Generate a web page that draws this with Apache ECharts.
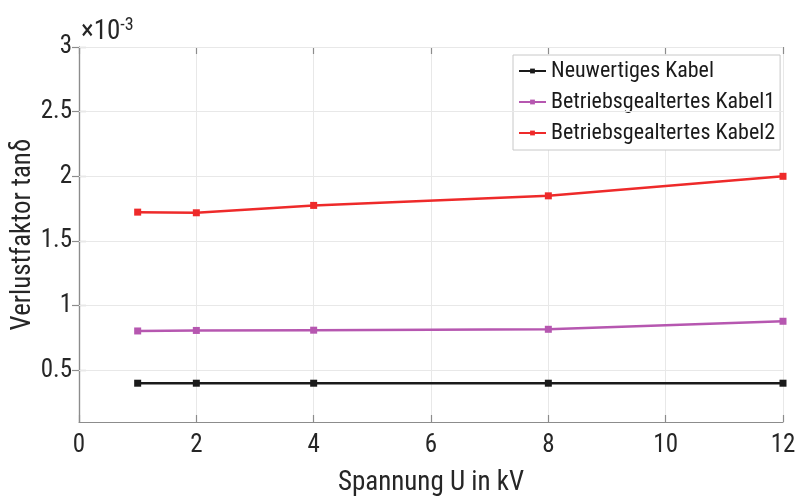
<!DOCTYPE html>
<html><head><meta charset="utf-8">
<script src="https://cdn.jsdelivr.net/npm/echarts@6/dist/echarts.min.js"></script>
<style>html,body{margin:0;padding:0;background:#fff}#c{width:798px;height:498px}</style>
</head><body><div id="c"></div>
<script>
// values in units of 1e-3
const xValues = [1, 2, 4, 8, 12];
const neu = [0.40, 0.40, 0.40, 0.40, 0.40];
const kabel1 = [0.804, 0.808, 0.81, 0.817, 0.879];
const kabel2 = [1.723, 1.718, 1.775, 1.849, 2.0];
const yTicks = [0.5, 1, 1.5, 2, 2.5, 3];
const yTickLabels = ['0.5', '1', '1.5', '2', '2.5', '3'];
const seriesNames = ['Neuwertiges Kabel', 'Betriebsgealtertes Kabel1', 'Betriebsgealtertes Kabel2'];
const colors = ['#1a1a1a', '#b657b0', '#ee2a2a'];

const FONT = "'Roboto Condensed','Liberation Sans Narrow','DejaVu Sans Condensed',Roboto,sans-serif";
const chart = echarts.init(document.getElementById('c'));
const pair = a => a.map((v, i) => [xValues[i], v]);
const axisLine = {show: true, lineStyle: {color: '#8c8c8c', width: 1.2}};
const tick = {show: true, inside: true, length: 7, lineStyle: {color: '#8c8c8c', width: 1.2}};
const grid = {left: 79, right: 15, top: 47, bottom: 76, containLabel: false, outerBoundsMode: 'none'};
const mkSeries = (name, data, color) => ({
  name, type: 'line', data: pair(data), xAxisIndex: 0, yAxisIndex: 0,
  symbol: 'rect', symbolSize: 7, lineStyle: {color, width: 2.5},
  itemStyle: {color}, animation: false, z: 5
});
chart.setOption({
  animation: false,
  textStyle: {fontFamily: FONT},
  grid,
  xAxis: [{
    type: 'value', min: 0, max: 12, interval: 2,
    axisLine, axisTick: tick,
    axisLabel: {color: '#262626', fontSize: 25, margin: 11, fontFamily: FONT},
    splitLine: {show: true, lineStyle: {color: '#e8e8e8', width: 1}},
    name: 'Spannung U in kV', nameLocation: 'middle', nameGap: 48, nameMoveOverlap: false,
    nameTextStyle: {color: '#262626', fontSize: 27, fontFamily: FONT}
  }, {
    type: 'value', position: 'top', min: 0, max: 12, interval: 2,
    axisLine, axisTick: tick, axisLabel: {show: false}, splitLine: {show: false}
  }],
  yAxis: [{
    type: 'value', min: 0.1, max: 3,
    axisLine, axisTick: Object.assign({customValues: yTicks}, tick),
    axisLabel: {customValues: yTicks, color: '#262626', fontSize: 25, margin: 7, fontFamily: FONT,
      formatter: v => yTickLabels[yTicks.indexOf(Math.round(v * 10) / 10)] ?? ''},
    splitLine: {show: false},
    name: 'Verlustfaktor tan\u03B4', nameLocation: 'middle', nameGap: 42, nameMoveOverlap: false,
    nameTextStyle: {color: '#262626', fontSize: 27, fontFamily: FONT}
  }, {
    type: 'value', position: 'right', min: 0.1, max: 3,
    axisLine, axisTick: Object.assign({customValues: yTicks}, tick),
    axisLabel: {show: false}, splitLine: {show: false}
  }],
  legend: {
    orient: 'vertical', left: 513, top: 55,
    padding: [5, 5, 6, 5], itemGap: 9, itemWidth: 27, itemHeight: 6,
    backgroundColor: '#fff', borderColor: '#c8c8c8', borderWidth: 1,
    textStyle: {fontSize: 22, color: '#1a1a1a', fontFamily: FONT},
    data: seriesNames
  },
  graphic: [{
    type: 'text', left: 81, top: 16,
    style: {
      text: '{a|\u00D710}{b|-3}', fill: '#262626',
      rich: {a: {fontSize: 27, fontFamily: FONT, fill: '#262626', verticalAlign: 'bottom'},
             b: {fontSize: 18, fontFamily: FONT, fill: '#262626', verticalAlign: 'top', padding: [0, 0, 12, 0]}}
    }
  }],
  series: [
    mkSeries(seriesNames[0], neu, colors[0]),
    mkSeries(seriesNames[1], kabel1, colors[1]),
    mkSeries(seriesNames[2], kabel2, colors[2]),
    {
      type: 'line', data: [], silent: true,
      markLine: {
        silent: true, symbol: 'none', label: {show: false},
        lineStyle: {color: '#e8e8e8', type: 'solid', width: 1},
        data: yTicks.map(v => ({yAxis: v}))
      }, z: 1
    }
  ]
});
</script></body></html>
